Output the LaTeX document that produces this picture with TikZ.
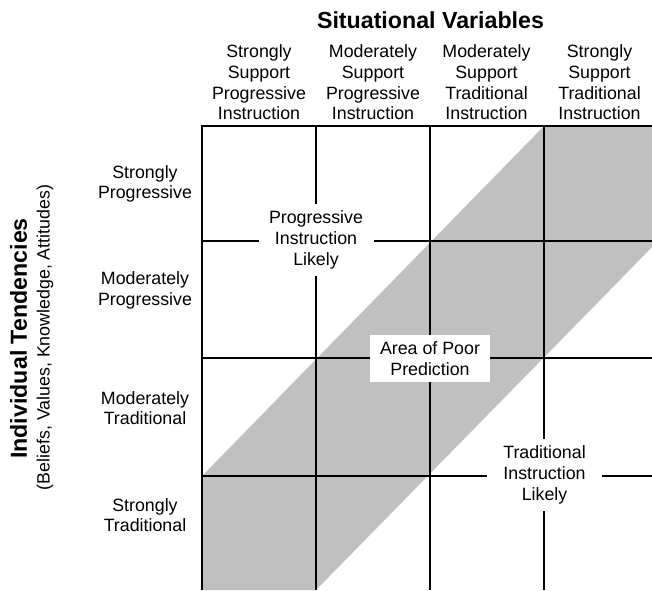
\documentclass[tikz,border=0pt]{standalone}
\usepackage{fontspec}
\setmainfont{Liberation Sans}
\usepackage{tikz}

\definecolor{bandgray}{RGB}{192,192,192}

\begin{document}
\begin{tikzpicture}[x=0.5pt,y=-0.5pt,
        txt/.style={align=center,inner sep=0pt,font=\fontsize{8.9}{10.35}\selectfont},
        hd/.style={inner sep=0pt,font=\fontsize{11.6}{13.5}\selectfont\bfseries},
        zone/.style={txt,fill=white,inner xsep=5pt,inner ysep=3.5pt,minimum width=57.5pt},
        rule/.style={line width=1pt}]
        \useasboundingbox (0,0) rectangle (652,590);

        % area of poor prediction
        \begin{scope}
            \clip (202,126) rectangle (652,590);
            \fill [bandgray] (202,476)--(544,126)--(658,126)--(658,241)--(316,590)--(202,590)--cycle;
        \end{scope}

        \draw [rule] (202,590)--(202,126)--(652,126);
        \draw [rule] (316,126)--(316,590);
        \draw [rule] (430,126)--(430,590);
        \draw [rule] (544,126)--(544,590);
        \draw [rule] (202,241)--(652,241);
        \draw [rule] (202,358)--(652,358);
        \draw [rule] (202,476)--(652,476);

        \node [hd] (title) at (430.5,20) {Situational Variables};
        \node [txt] (c1) at (259,82.5) {Strongly\\Support\\Progressive\\Instruction};
        \node [txt] (c2) at (373,82.5) {Moderately\\Support\\Progressive\\Instruction};
        \node [txt] (c3) at (486.5,82.5) {Moderately\\Support\\Traditional\\Instruction};
        \node [txt] (c4) at (599.5,82.5) {Strongly\\Support\\Traditional\\Instruction};

        \node [hd,rotate=90] (axis) at (18.5,338.5) {Individual Tendencies};
        \node [txt,rotate=90] (axissub) at (45,337.5) {(Beliefs, Values, Knowledge, Attitudes)};
        \node [txt] (r1) at (145,184) {Strongly\\Progressive};
        \node [txt] (r2) at (145,290.5) {Moderately\\Progressive};
        \node [txt] (r3) at (145,408) {Moderately\\Traditional};
        \node [txt] (r4) at (145,515) {Strongly\\Traditional};

        \node [zone] (prog) at (316,240) {Progressive\\Instruction\\Likely};
        \node [zone] (poor) at (430,358.5) {Area of Poor\\Prediction};
        \node [zone] (trad) at (544.5,475) {Traditional\\Instruction\\Likely};
    \end{tikzpicture}
\end{document}
